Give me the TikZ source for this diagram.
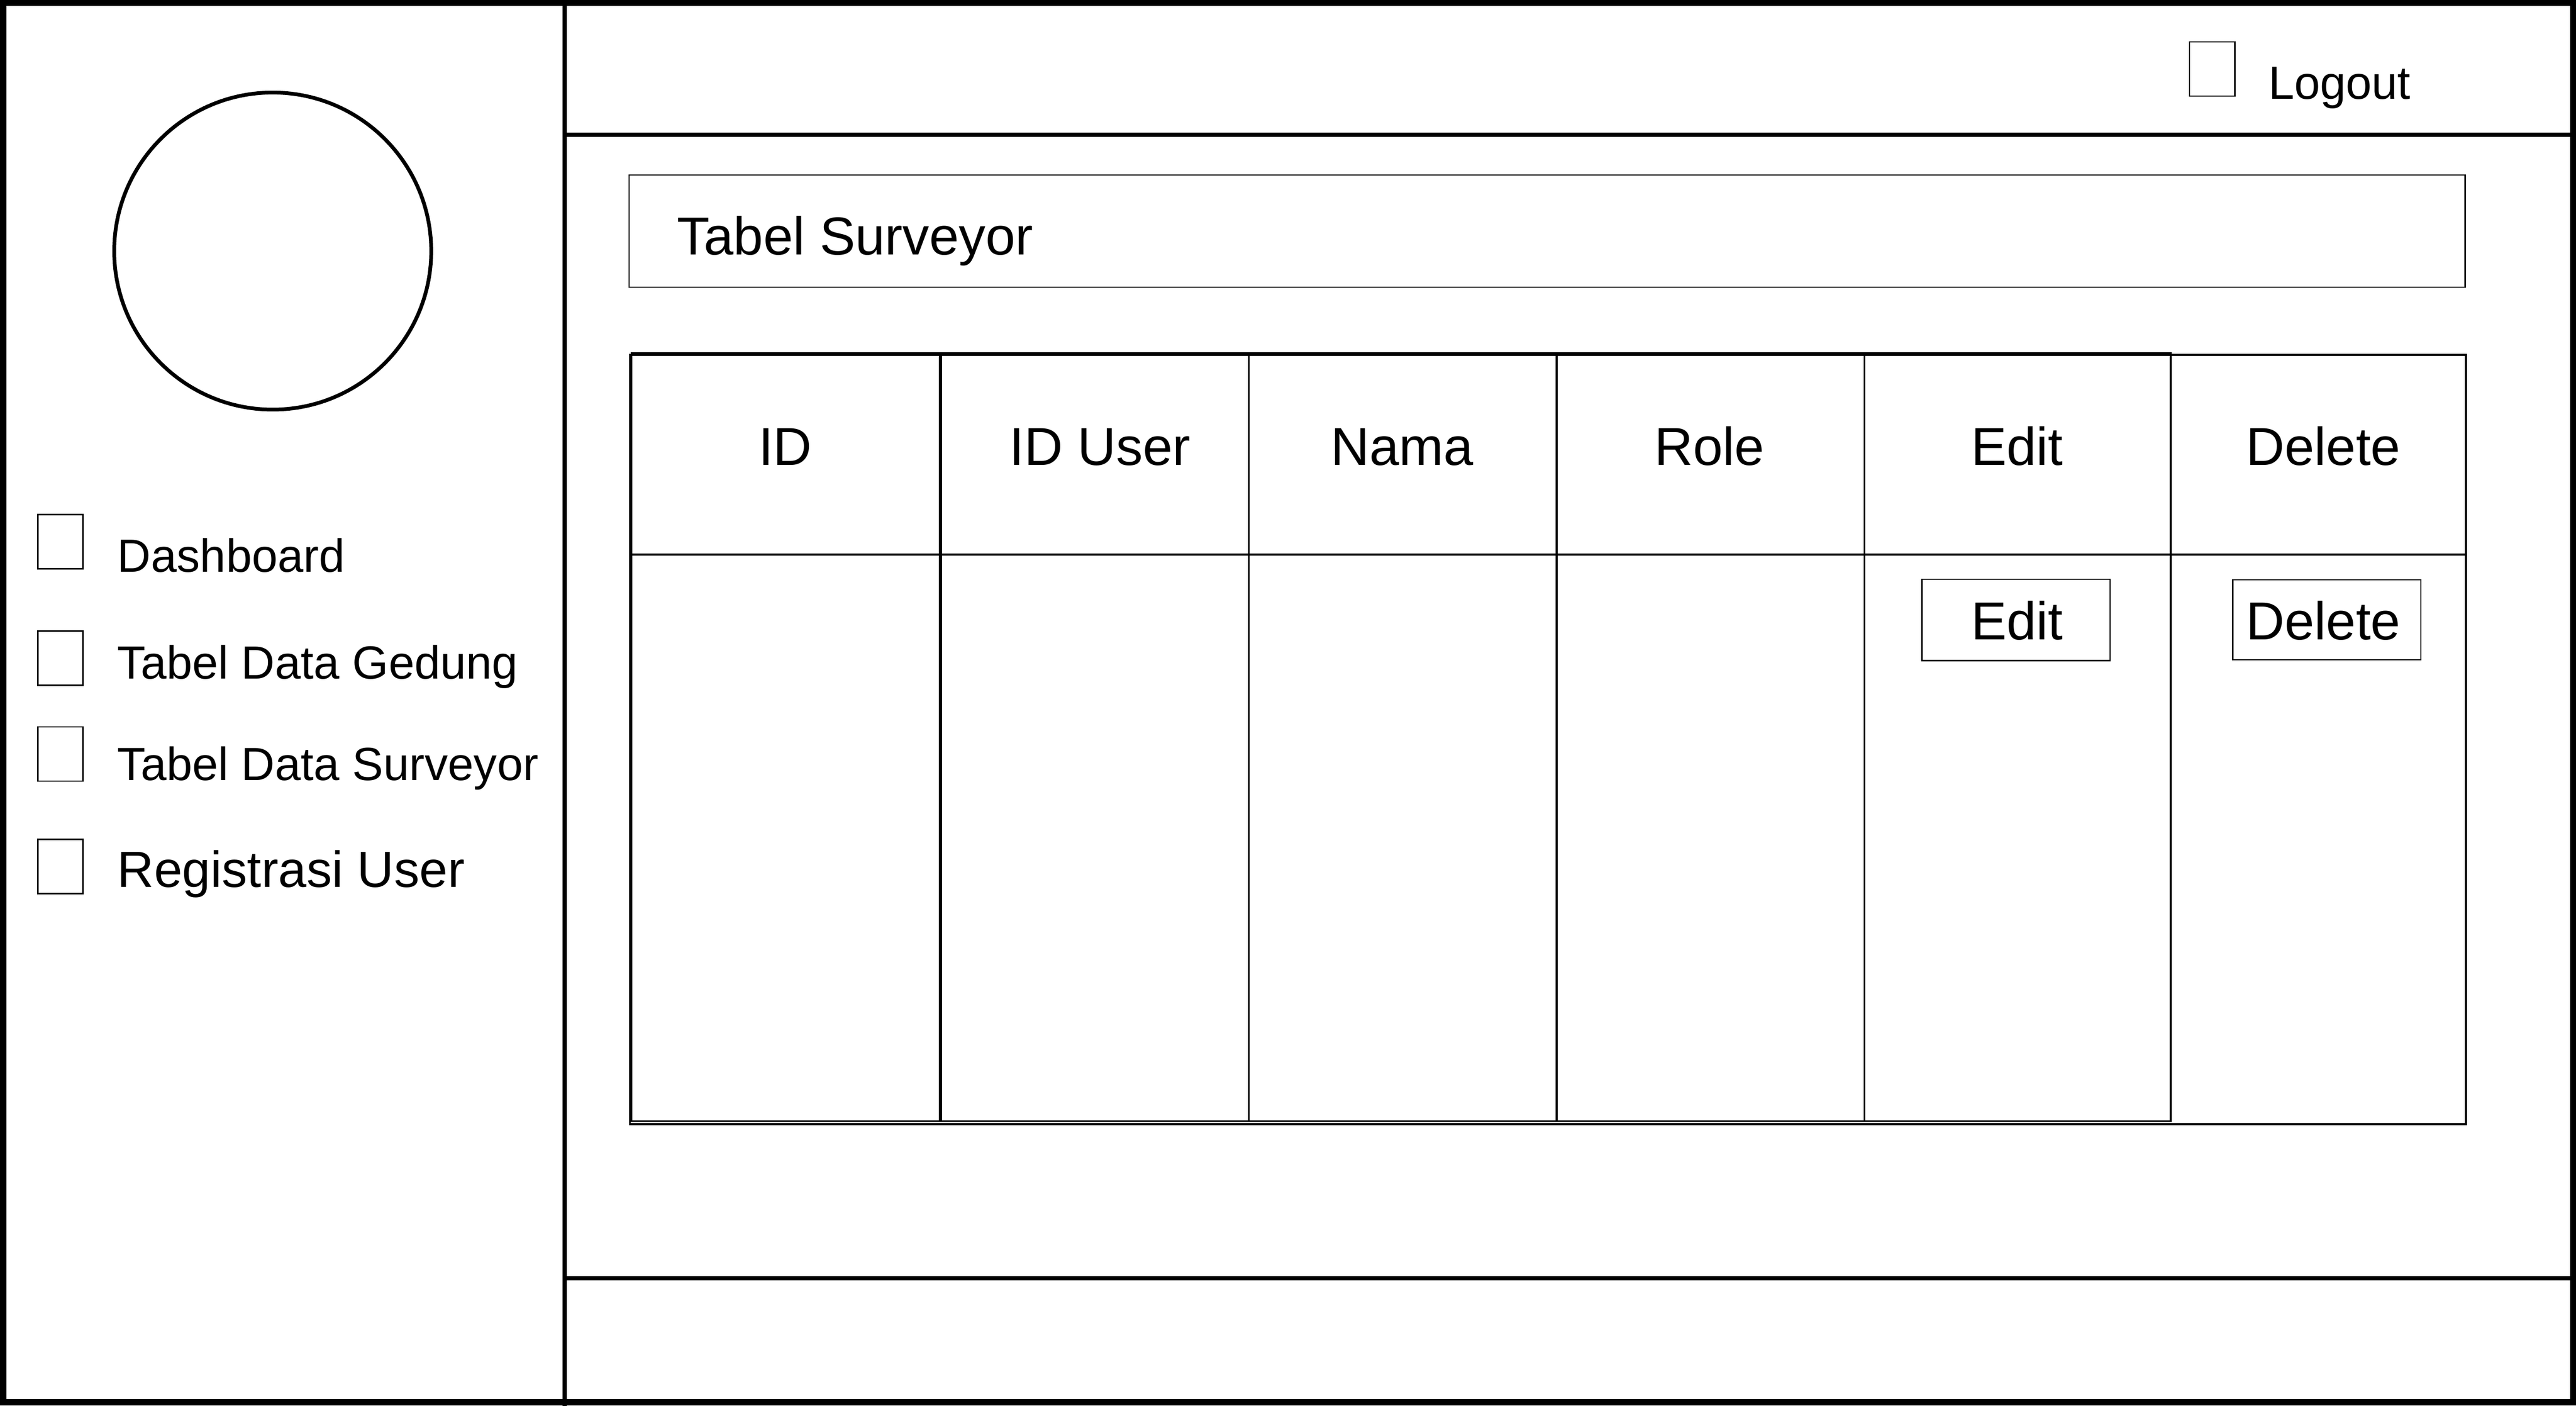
\documentclass[tikz,border=0pt]{standalone}
\usepackage{fontspec}
\setmainfont{Liberation Sans}

\begin{document}
\begin{tikzpicture}[x=0.02cm, y=-0.02cm,
    frame/.style={line width=2.3pt},
    bar/.style={line width=1.5pt},
    cell/.style={line width=0.6pt},
    box/.style={line width=0.45pt},
    menu/.style={anchor=base west, inner sep=0pt, font=\fontsize{16.1}{19}\selectfont},
    head/.style={anchor=base, inner sep=0pt, font=\fontsize{18.5}{22}\selectfont}]

\useasboundingbox (0,0) rectangle (1568,855.7);

% page frame
\draw [frame] (2,1.5) rectangle (1566.5,853.5);
\draw [bar] (343.6,0) -- (343.6,855.7);
\draw [bar] (343.6,82) -- (1568,82);
\draw [bar] (343.6,778) -- (1568,778);

% avatar
\draw [line width=1.3pt] (166,152.8) circle [radius=1.93cm];

% sidebar
\foreach \b/\l/\t/\n in {313.2/348.2/Dashboard/dash, 384.1/413.3/Tabel Data Gedung/gedung, 442.4/474.9/Tabel Data Surveyor/surveyor}
{
    \draw [box] (23,\b) rectangle ++(27.5,33);
    \node [menu] (menu-\n) at (71.2,\l) {\t};
}
\draw [box] (23,510.8) rectangle ++(27.5,33);
\node [menu, font=\fontsize{17.6}{21}\selectfont] (menu-reg) at (71.2,540) {Registrasi User};

% top bar
\draw [box] (1332.7,25.4) rectangle (1360.3,58.5);
\node [menu] (logout) at (1380.5,60.2) {Logout};

% title
\draw [box] (382.9,106.5) rectangle (1500.5,174.8);
\node [head, anchor=base west] (title) at (411.9,155) {Tabel Surveyor};

% table
\draw [cell] (383.5,216) rectangle (1501,684.2);
\foreach \a/\b in {384.5/572, 573/760.2, 760.2/947.5, 947.5/1134.8, 1134.8/1321.3}
    \draw [cell] (\a,215) rectangle (\b,682.4);
\draw [cell] (383.5,337.5) -- (1501,337.5);

\foreach \x/\t/\n in {478/ID/id, 669.5/ID User/iduser, 853.5/Nama/nama, 1040.5/Role/role, 1227.8/Edit/edit, 1414.2/Delete/delete}
    \node [head] (head-\n) at (\x,283.2) {\t};

% buttons
\draw [box] (1169.8,352.6) rectangle (1284.4,402);
\node [head] (btn-edit) at (1227.8,389.3) {Edit};
\draw [box] (1359,352.8) rectangle (1473.6,401.5);
\node [head] (btn-delete) at (1414.2,389.3) {Delete};

\end{tikzpicture}
\end{document}
